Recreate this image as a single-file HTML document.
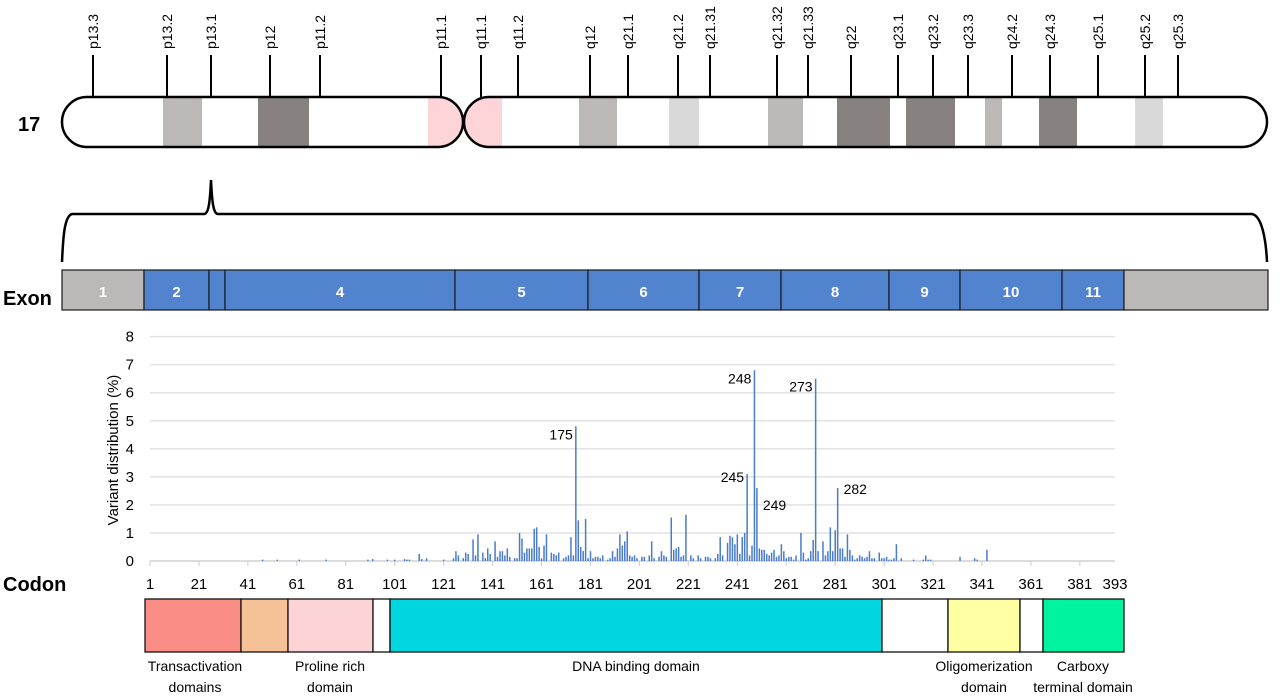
<!DOCTYPE html>
<html><head><meta charset="utf-8"><style>
html,body{margin:0;padding:0;background:#fff;}
svg{display:block;font-family:"Liberation Sans",sans-serif;}
</style></head><body>
<svg id="fig" width="1280" height="699" viewBox="0 0 1280 699">
<g id="chrom"></g>
<g id="brace">
<path d="M62,262 C63,240 64,216 72,214 L204,214 C209,214 210,200 211,180 C212,200 213,214 218,214 L1252,214 C1262,216 1266,240 1267,262" fill="none" stroke="#000" stroke-width="2.5"/>
</g>
<g id="exons"></g>
<g id="chart"></g>
<g id="domains"></g>
</svg>
<script>
const NS="http://www.w3.org/2000/svg";
function mk(p,t,a,txt){const e=document.createElementNS(NS,t);for(const k in a)e.setAttribute(k,a[k]);if(txt!==undefined)e.textContent=txt;p.appendChild(e);return e;}

// ---- Chart data ----
const codons=[
47,53,62,73,90,92,98,101,105,106,
107,111,112,114,121,125,126,127,129,130,
131,133,134,135,137,138,139,140,142,143,
144,145,146,147,148,150,151,152,153,154,
155,156,157,158,159,160,161,162,163,165,
166,167,168,170,171,172,173,174,175,176,
177,178,179,180,181,182,183,184,185,186,
188,189,190,191,192,193,194,195,196,197,
198,199,200,202,203,205,206,207,209,210,
211,212,214,215,216,217,218,219,220,222,
223,225,226,228,229,230,232,233,234,235,
237,238,239,240,241,242,243,244,245,246,
247,248,249,250,251,252,253,254,255,256,
257,258,259,260,261,262,263,264,265,267,
268,269,270,271,272,273,274,276,277,278,
279,280,281,282,283,284,285,286,287,288,
289,290,291,292,293,294,295,296,297,299,
300,301,302,303,304,305,306,308,313,317,
318,319,320,332,338,339,343];
const variantPct=[
0.05,0.05,0.05,0.05,0.05,0.07,0.05,0.05,0.07,0.05,
0.05,0.25,0.07,0.1,0.05,0.1,0.35,0.2,0.1,0.3,
0.25,0.77,0.2,0.95,0.3,0.1,0.45,0.25,0.7,0.15,
0.35,0.35,0.2,0.45,0.15,0.1,0.1,1.0,0.8,0.3,
0.45,0.45,0.45,1.15,1.2,0.5,0.1,0.55,0.95,0.3,
0.25,0.2,0.3,0.1,0.15,0.2,0.85,0.2,4.8,1.45,
0.5,0.35,1.5,0.1,0.35,0.1,0.15,0.15,0.1,0.2,
0.05,0.1,0.35,0.15,0.45,0.95,0.55,0.7,1.05,0.2,
0.15,0.2,0.1,0.15,0.15,0.2,0.7,0.1,0.15,0.35,
0.2,0.15,1.55,0.4,0.45,0.5,0.15,0.2,1.65,0.2,
0.1,0.2,0.1,0.15,0.15,0.1,0.1,0.25,0.85,0.2,
0.65,0.9,0.85,0.6,0.95,0.25,0.85,1.0,3.1,0.2,
0.55,6.8,2.6,0.45,0.4,0.4,0.25,0.2,0.3,0.4,
0.15,0.2,0.6,0.35,0.1,0.15,0.15,0.05,0.2,1.0,
0.3,0.05,0.1,0.35,0.75,6.5,0.35,0.7,0.2,0.35,
1.2,0.35,1.1,2.6,0.45,0.45,0.15,0.95,0.4,0.2,
0.05,0.1,0.2,0.15,0.1,0.15,0.35,0.1,0.1,0.3,
0.1,0.1,0.15,0.05,0.05,0.1,0.6,0.1,0.05,0.05,
0.2,0.05,0.05,0.15,0.1,0.05,0.4];
const labeledCodons=["175","245","248","249","273","282"];
const yTicks=[0,1,2,3,4,5,6,7,8];
const xTickLabels=["1","21","41","61","81","101","121","141","161","181","201","221","241","261","281","301","321","341","361","381"];

// ---- Chromosome ----
const chrom=document.getElementById('chrom');
const bandNames=["p13.3","p13.2","p13.1","p12","p11.2","p11.1","q11.1","q11.2","q12","q21.1","q21.2","q21.31","q21.32","q21.33","q22","q23.1","q23.2","q23.3","q24.2","q24.3","q25.1","q25.2","q25.3"];
const bandTickX=[93,167,211,270,320,441,481,518,590,628,678,710,777,808,851,898,933,968,1012,1050,1098,1145,1178];
const shaded=[[163,202,"#bcb8b7"],[258,309,"#878281"],[428,463,"#fdd5d8"],[463,502,"#fdd5d8"],[579,617,"#bcb8b7"],[669,699,"#d9d9d9"],[768,803,"#bcb8b7"],[837,890,"#878281"],[906,955,"#878281"],[985,1002,"#bcb8b7"],[1039,1077,"#878281"],[1135,1163,"#d9d9d9"]];
mk(chrom,'defs',{}).innerHTML='<clipPath id="cpL"><rect x="62" y="97" width="401" height="50" rx="25"/></clipPath><clipPath id="cpR"><rect x="464" y="97" width="803" height="50" rx="25"/></clipPath>';
const gL=mk(chrom,'g',{'clip-path':'url(#cpL)'}),gR=mk(chrom,'g',{'clip-path':'url(#cpR)'});
shaded.forEach(s=>{const b=mk(s[0]<463?gL:gR,'rect',{x:s[0],y:97,width:s[1]-s[0],height:50,fill:s[2]});

});
mk(chrom,'rect',{x:62,y:97,width:401,height:50,rx:25,fill:'none',stroke:'#000','stroke-width':2.5});
mk(chrom,'rect',{x:464,y:97,width:803,height:50,rx:25,fill:'none',stroke:'#000','stroke-width':2.5});
bandNames.forEach((n,i)=>{const x=bandTickX[i];
const l=mk(chrom,'line',{x1:x,y1:55,x2:x,y2:97,stroke:'#000','stroke-width':2});


const t=mk(chrom,'text',{x:0,y:0,transform:`translate(${x+5},49) rotate(-90)`,'font-size':14,fill:'#000'},n);

});
const c17=mk(chrom,'text',{x:18,y:131,'font-size':20,'font-weight':'bold'},'17');



// ---- Exons ----
const ex=document.getElementById('exons');
const exonLabels=["1","2","","4","5","6","7","8","9","10","11",""];
const exonEdges=[62,144,209,225,455,588,699,781,889,960,1062,1124,1268];
const lblEx=mk(ex,'text',{x:3,y:305,'font-size':20,'font-weight':'bold'},'Exon');


exonLabels.forEach((n,i)=>{const x0=exonEdges[i],x1=exonEdges[i+1];
const gray=(i===0||i===exonLabels.length-1);
const r=mk(ex,'rect',{x:x0,y:270,width:x1-x0,height:40,fill:gray?'#bcb8b7':'#5283cf',stroke:'#1a1a1a','stroke-width':1.2});


if(n){const t=mk(ex,'text',{x:(x0+x1)/2,y:297,'font-size':15,'font-weight':'bold',fill:'#fff','text-anchor':'middle'},n);

}});

const chart=document.getElementById('chart');
const X0=150,PX=2.447,Y0=561,PY=28.05;
const xs=c=>X0+(c-1)*PX, ys=v=>Y0-v*PY;
yTicks.forEach(v=>{
const g=mk(chart,'line',{x1:X0,x2:1115,y1:ys(v),y2:ys(v),stroke:v===0?'#d0d0d0':'#e2e2e2','stroke-width':1.5});


const t=mk(chart,'text',{x:134,y:ys(v)+5,'font-size':15,'text-anchor':'end'},String(v));

});
xTickLabels.forEach(s=>{const c=+s,x=xs(c);
const tk=mk(chart,'line',{x1:x,x2:x,y1:Y0,y2:Y0+5,stroke:'#ccc'});


const t=mk(chart,'text',{x:x,y:589,'font-size':15,'text-anchor':'middle'},s);

});
const last=mk(chart,'text',{x:1115,y:589,'font-size':15,'text-anchor':'middle'},'393');


codons.forEach((c,i)=>{const v=variantPct[i];
const b=mk(chart,'rect',{x:xs(c)-0.7,y:ys(v),width:1.5,height:Math.max(0.5,v*PY),fill:'#4a7cc9'});

});
labeledCodons.forEach(s=>{const c=+s,i=codons.indexOf(c),v=variantPct[i];
const right=(c===249||c===282);
const t=mk(chart,'text',{x:right?xs(c)+6:xs(c)-3,y:right?ys(v)+(c===249?22:6):ys(v)+(c===245?8:13),'font-size':14,'text-anchor':right?'start':'end'},s);

});
const yt=mk(chart,'text',{x:0,y:0,transform:'translate(118,450) rotate(-90)','font-size':15,'text-anchor':'middle'},'Variant distribution (%)');


const cd=mk(chart,'text',{x:3,y:591,'font-size':20,'font-weight':'bold'},'Codon');



// ---- Domains ----
const dom=document.getElementById('domains');
const domainEdges=[145,241,288,373,390,882,948,1020,1043,1124];
const domainColors=['#fa8d86','#f5c196','#fdd4d6','#fff','#00d6df','#fff','#ffffa4','#fff','#00f49f'];
domainColors.forEach((col,i)=>{const r=mk(dom,'rect',{x:domainEdges[i],y:599,width:domainEdges[i+1]-domainEdges[i],height:53,fill:col,stroke:'#111','stroke-width':1.3});

});
const dlabels=[[195,671,'Transactivation'],[195,692,'domains'],[330,671,'Proline rich'],[330,692,'domain'],[636,671,'DNA binding domain'],[984,671,'Oligomerization'],[984,692,'domain'],[1083,671,'Carboxy'],[1083,692,'terminal domain']];
dlabels.forEach(d=>{const t=mk(dom,'text',{x:d[0],y:d[1],'font-size':14,'text-anchor':'middle'},d[2]);

});
</script>
</body></html>
